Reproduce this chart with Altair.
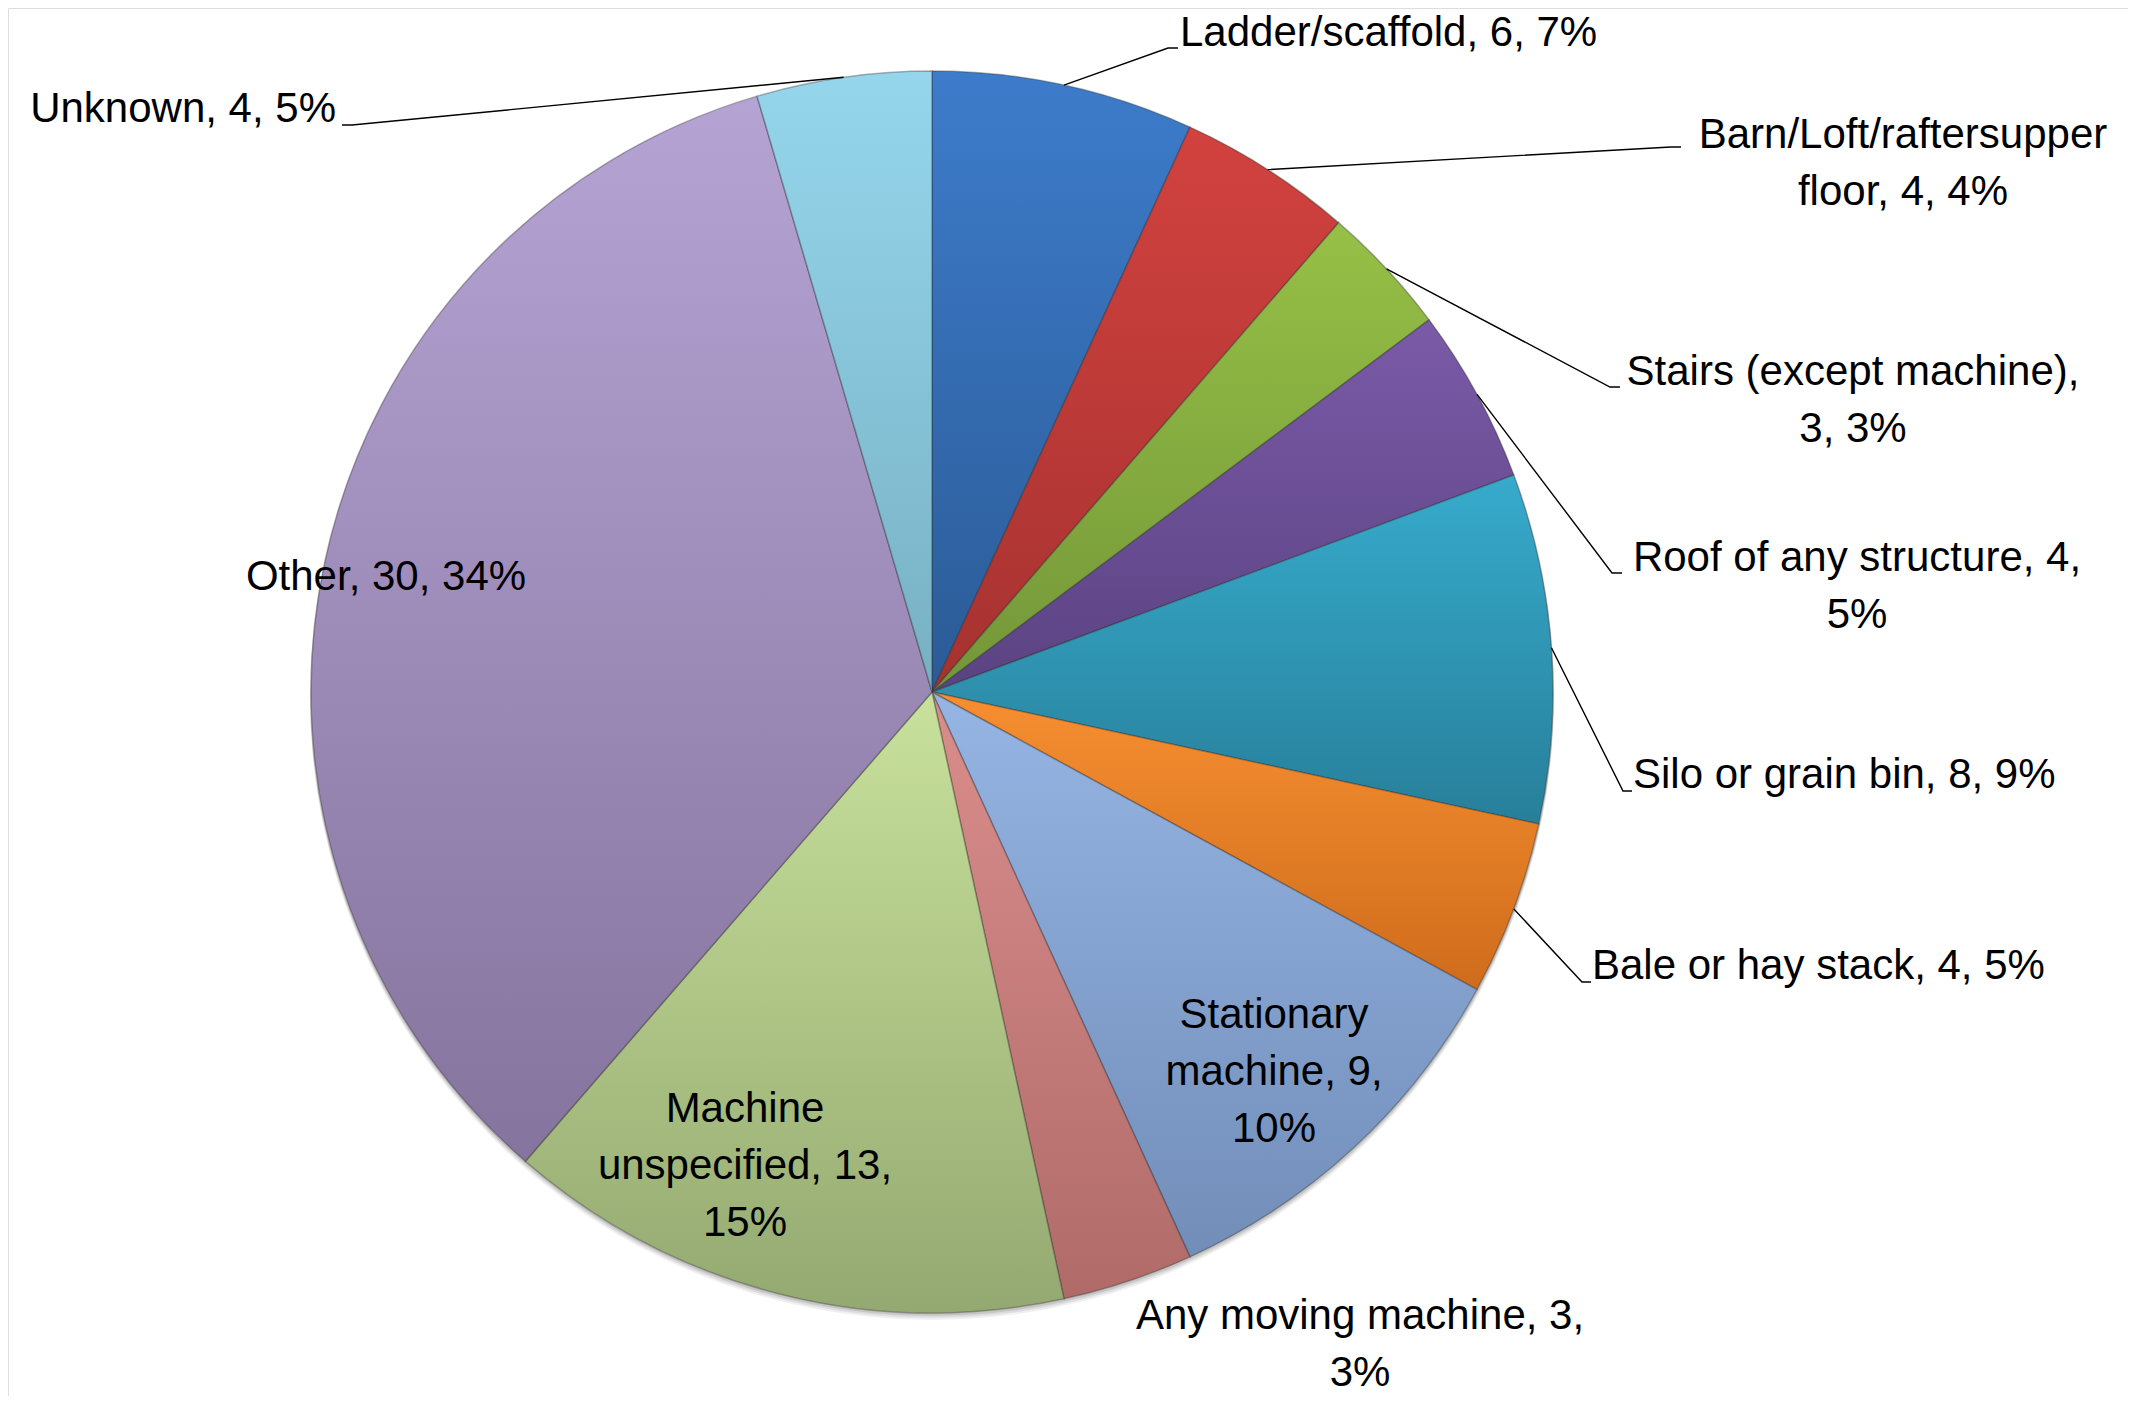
import math
import altair as alt
import pandas as pd

# ---------------- data ----------------
categories = [
    "Ladder/scaffold",
    "Barn/Loft/raftersupper floor",
    "Stairs (except machine)",
    "Roof of any structure",
    "Silo or grain bin",
    "Bale or hay stack",
    "Stationary machine",
    "Any moving machine",
    "Machine unspecified",
    "Other",
    "Unknown",
]
counts = [6, 4, 3, 4, 8, 4, 9, 3, 13, 30, 4]
percents = [7, 4, 3, 5, 9, 5, 10, 3, 15, 34, 5]
label_texts = [
    "Ladder/scaffold, 6, 7%",
    "Barn/Loft/raftersupper\nfloor, 4, 4%",
    "Stairs (except machine),\n3, 3%",
    "Roof of any structure, 4,\n5%",
    "Silo or grain bin, 8, 9%",
    "Bale or hay stack, 4, 5%",
    "Stationary\nmachine, 9,\n10%",
    "Any moving machine, 3,\n3%",
    "Machine\nunspecified, 13,\n15%",
    "Other, 30, 34%",
    "Unknown, 4, 5%",
]

# ---------------- styles ----------------
color_top = ["#3D7CCB", "#D2423F", "#96C046", "#7B5AA8", "#37ABCC", "#F78F31",
             "#95B5E4", "#DA8E8C", "#C8E19B", "#B5A3D4", "#95D6EC"]
color_bottom = ["#2B5B96", "#A53230", "#739639", "#5A4382", "#277F9A", "#CF6C1C",
                "#728DB8", "#B06B69", "#94A971", "#85749D", "#78B0C3"]

# ---------------- layout ----------------
W, H = 2120, 1388
CX, CY, R = 924, 684, 621
FONT = "Liberation Sans"
FS = 42
LH = 57
# x / y of the first line of each label (chart pixels)
label_x = [1172, 1895, 1845, 1849, 1625, 1584, 1266, 1352, 737, 378, 328]
label_y = [25, 127, 364, 550, 767, 958, 1007, 1308, 1101, 569, 101]
label_align = ["left", "center", "center", "center", "left", "left",
               "center", "center", "center", "center", "right"]
# leader: category index, elbow x, elbow y, end x
leaders = [
    (0, 1160, 40, 1170),
    (1, 1663, 139, 1673),
    (2, 1602, 379, 1612),
    (3, 1604, 565, 1614),
    (4, 1615, 783, 1624),
    (5, 1574, 974, 1583),
    (10, 344, 117, 334),
]

total = sum(counts)
starts, ends = [], []
acc = 0
for c in counts:
    starts.append(acc)
    acc += c
    ends.append(acc)

pie_df = pd.DataFrame({
    "idx": list(range(len(categories))),
    "category": categories,
    "count": counts,
    "start": starts,
    "end": ends,
})

lab_df = pd.DataFrame({
    "idx": list(range(len(categories))),
    "label": label_texts,
    "lx": label_x,
    "ly": label_y,
    "align": label_align,
})

rows = []
for (i, ex, ey, endx) in leaders:
    mid = (starts[i] + ends[i]) / 2 / total * 2 * math.pi
    sx = CX + R * math.sin(mid)
    sy = CY - R * math.cos(mid)
    rows.append({"idx": i, "k": 0, "px": sx, "py": sy})
    rows.append({"idx": i, "k": 1, "px": ex, "py": ey})
    rows.append({"idx": i, "k": 2, "px": endx, "py": ey})
lead_df = pd.DataFrame(rows)

xs = alt.Scale(domain=[0, W], nice=False, zero=False)
ys = alt.Scale(domain=[0, H], nice=False, zero=False, reverse=True)
ts = alt.Scale(domain=[0, total], range=[0, 2 * math.pi])

layers = []

# soft shadow under the pie
shadow_df = pd.DataFrame({"start": [0], "end": [total]})
for off, op in [(6, 0.06), (4, 0.08), (2, 0.10)]:
    layers.append(
        alt.Chart(shadow_df)
        .mark_arc(outerRadius=R + 1, fill="#000000", fillOpacity=op)
        .encode(
            theta=alt.Theta("start:Q", scale=ts),
            theta2="end:Q",
            x=alt.XDatum(CX, type="quantitative", scale=xs, axis=None),
            y=alt.YDatum(CY + off, type="quantitative", scale=ys, axis=None),
        )
    )

for i in range(len(categories)):
    grad = {
        "gradient": "linear", "x1": 0, "y1": 0, "x2": 0, "y2": 1,
        "stops": [{"offset": 0, "color": color_top[i]},
                  {"offset": 1, "color": color_bottom[i]}],
    }
    layers.append(
        alt.Chart(pie_df)
        .transform_filter(f"datum.idx == {i}")
        .mark_arc(outerRadius=R, fill=grad, stroke="#2a2a2a",
                  strokeOpacity=0.35, strokeWidth=1.5)
        .encode(
            theta=alt.Theta("start:Q", scale=ts),
            theta2="end:Q",
            x=alt.XDatum(CX, type="quantitative", scale=xs, axis=None),
            y=alt.YDatum(CY, type="quantitative", scale=ys, axis=None),
        )
    )

layers.append(
    alt.Chart(lead_df)
    .mark_line(color="black", strokeWidth=1.4)
    .encode(
        x=alt.X("px:Q", scale=xs, axis=None),
        y=alt.Y("py:Q", scale=ys, axis=None),
        detail="idx:N",
        order="k:O",
    )
)

for al in ["left", "center", "right"]:
    layers.append(
        alt.Chart(lab_df)
        .transform_filter(f"datum.align == '{al}'")
        .mark_text(align=al, baseline="middle", font=FONT, fontSize=FS,
                   lineBreak="\n", lineHeight=LH, color="black")
        .encode(
            x=alt.X("lx:Q", scale=xs, axis=None),
            y=alt.Y("ly:Q", scale=ys, axis=None),
            text="label:N",
        )
    )

chart = (
    alt.layer(*layers)
    .properties(width=W, height=H, padding=0,
                autosize=alt.AutoSizeParams(type="none"))
    .configure_view(stroke=None)
    .configure(background="white")
)

chart.save("out.html", embed_options={"renderer": "svg", "actions": False})
